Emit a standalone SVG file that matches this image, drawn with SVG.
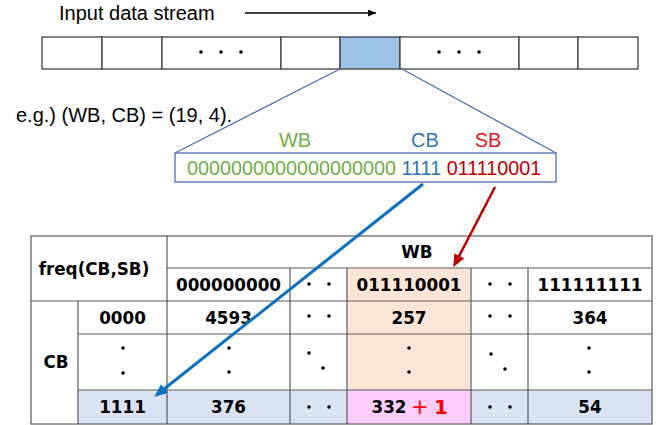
<svg xmlns="http://www.w3.org/2000/svg" width="664" height="425" viewBox="0 0 664 425">
<defs>
<style>
.sans{font-family:"Liberation Sans",Arial,sans-serif;font-size:20px}
.tb{font-family:"DejaVu Sans","Liberation Sans",sans-serif;font-weight:bold;font-size:16.8px;fill:#000;text-anchor:middle}
.cell{fill:#fff;stroke:#404040;stroke-width:1.3}
.grid{stroke:#5a5a5a;stroke-width:1.2;fill:none}
.dot{fill:#000}
.zoomline{stroke:#4f6fb3;stroke-width:1.3;fill:none}
</style>
<marker id="ahBlack" markerUnits="userSpaceOnUse" markerWidth="9" markerHeight="8" refX="8" refY="3.5" orient="auto">
<path d="M0,0 L8,3.5 L0,7 z" fill="#000"/>
</marker>
<marker id="ahBlue" markerUnits="userSpaceOnUse" markerWidth="14" markerHeight="12" refX="7" refY="5.5" orient="auto">
<path d="M0,0 L13,5.5 L0,11 z" fill="#0b70c0"/>
</marker>
<marker id="ahRed" markerUnits="userSpaceOnUse" markerWidth="14" markerHeight="12" refX="7" refY="5.5" orient="auto">
<path d="M0,0 L13,5.5 L0,11 z" fill="#c00000"/>
</marker>
</defs>
<rect width="664" height="425" fill="#fff"/>

<g id="title">
<text class="sans" x="59" y="20">Input data stream</text>
</g>

<g id="stream">
<rect class="cell" x="42" y="37" width="60" height="32"/>
<rect class="cell" x="102" y="37" width="60" height="32"/>
<rect class="cell" x="162" y="37" width="119" height="32"/>
<rect class="cell" x="281" y="37" width="59" height="32"/>
<rect class="cell" x="340" y="37" width="60" height="32" style="fill:#9dc3e6"/>
<rect class="cell" x="400" y="37" width="119" height="32"/>
<rect class="cell" x="519" y="37" width="59" height="32"/>
<rect class="cell" x="578" y="37" width="60" height="32"/>
<circle class="dot" cx="201" cy="52" r="1.8"/>
<circle class="dot" cx="221" cy="52" r="1.8"/>
<circle class="dot" cx="241" cy="52" r="1.8"/>
<circle class="dot" cx="439" cy="52" r="1.8"/>
<circle class="dot" cx="459" cy="52" r="1.8"/>
<circle class="dot" cx="479" cy="52" r="1.8"/>
</g>

<g id="example">
<text class="sans" x="16" y="122">e.g.) (WB, CB) = (19, 4).</text>
</g>

<g id="bitbox">
<rect x="175" y="153" width="381" height="29" fill="#fff" stroke="#4f6fb3" stroke-width="1.3"/>
<text class="sans" x="295" y="147" text-anchor="middle" fill="#70ad47">WB</text>
<text class="sans" x="425" y="147" text-anchor="middle" fill="#2e75b6">CB</text>
<text class="sans" x="488" y="147" text-anchor="middle" fill="#e8141b">SB</text>
<text class="sans" x="187" y="175" style="font-size:19.8px"><tspan fill="#70ad47">0000000000000000000</tspan> <tspan fill="#2e75b6">1111</tspan> <tspan fill="#c00000">011110001</tspan></text>
</g>

<g id="table">
<rect x="347" y="268" width="124" height="122" fill="#fbe5d6"/>
<rect x="78" y="390" width="574" height="34" fill="#dae3f3"/>
<rect x="347" y="390" width="124" height="34" fill="#ffccff"/>
<g class="grid">
<rect x="31" y="236" width="621" height="188"/>
<line x1="167" y1="236" x2="167" y2="424"/>
<line x1="167" y1="268" x2="652" y2="268"/>
<line x1="31" y1="301" x2="652" y2="301"/>
<line x1="78" y1="301" x2="78" y2="424"/>
<line x1="78" y1="334" x2="652" y2="334"/>
<line x1="78" y1="390" x2="652" y2="390"/>
<line x1="290" y1="268" x2="290" y2="424"/>
<line x1="347" y1="268" x2="347" y2="424"/>
<line x1="471" y1="268" x2="471" y2="424"/>
<line x1="528" y1="268" x2="528" y2="424"/>
</g>
<text class="tb" x="94" y="275">freq(CB,SB)</text>
<text class="tb" x="417" y="258">WB</text>
<text class="tb" x="56" y="368">CB</text>
<text class="tb" x="228.5" y="291">000000000</text>
<text class="tb" x="409" y="291">011110001</text>
<text class="tb" x="590" y="291">111111111</text>
<text class="tb" x="122.5" y="324">0000</text>
<text class="tb" x="228.5" y="324">4593</text>
<text class="tb" x="409" y="324">257</text>
<text class="tb" x="590" y="324">364</text>
<text class="tb" x="122.5" y="413">1111</text>
<text class="tb" x="228.5" y="413">376</text>
<text class="tb" x="590" y="413">54</text>
<text class="tb" x="371.5" y="413" style="text-anchor:start">332<tspan x="411" y="414" style="font-weight:normal;font-size:21px" fill="#ff0000">+</tspan><tspan x="434" y="414" style="font-size:20px" fill="#ff0000">1</tspan></text>
<g class="dot">
<circle cx="309" cy="284" r="1.8"/><circle cx="329" cy="284" r="1.8"/>
<circle cx="490" cy="284" r="1.8"/><circle cx="510" cy="284" r="1.8"/>
<circle cx="309" cy="316" r="1.8"/><circle cx="329" cy="316" r="1.8"/>
<circle cx="490" cy="316" r="1.8"/><circle cx="510" cy="316" r="1.8"/>
<circle cx="309" cy="407" r="1.8"/><circle cx="329" cy="407" r="1.8"/>
<circle cx="490" cy="407" r="1.8"/><circle cx="510" cy="407" r="1.8"/>
<circle cx="123" cy="348" r="1.8"/><circle cx="123" cy="373" r="1.8"/>
<circle cx="229" cy="348" r="1.8"/><circle cx="229" cy="372" r="1.8"/>
<circle cx="409" cy="348" r="1.8"/><circle cx="409" cy="372" r="1.8"/>
<circle cx="589" cy="348" r="1.8"/><circle cx="589" cy="372" r="1.8"/>
<circle cx="309" cy="353" r="1.8"/><circle cx="323" cy="368" r="1.8"/>
<circle cx="491" cy="354" r="1.8"/><circle cx="505" cy="369" r="1.8"/>
</g>
</g>

<g id="connectors">
<line x1="245" y1="13" x2="376" y2="13" stroke="#000" stroke-width="1.5" marker-end="url(#ahBlack)"/>
<line class="zoomline" x1="340" y1="69" x2="175" y2="153"/>
<line class="zoomline" x1="402" y1="69" x2="556" y2="153"/>
<line x1="423" y1="184" x2="159" y2="393" stroke="#0b70c0" stroke-width="3" marker-end="url(#ahBlue)"/>
<line x1="495" y1="187" x2="456" y2="262" stroke="#c00000" stroke-width="2.5" marker-end="url(#ahRed)"/>
</g>
</svg>
